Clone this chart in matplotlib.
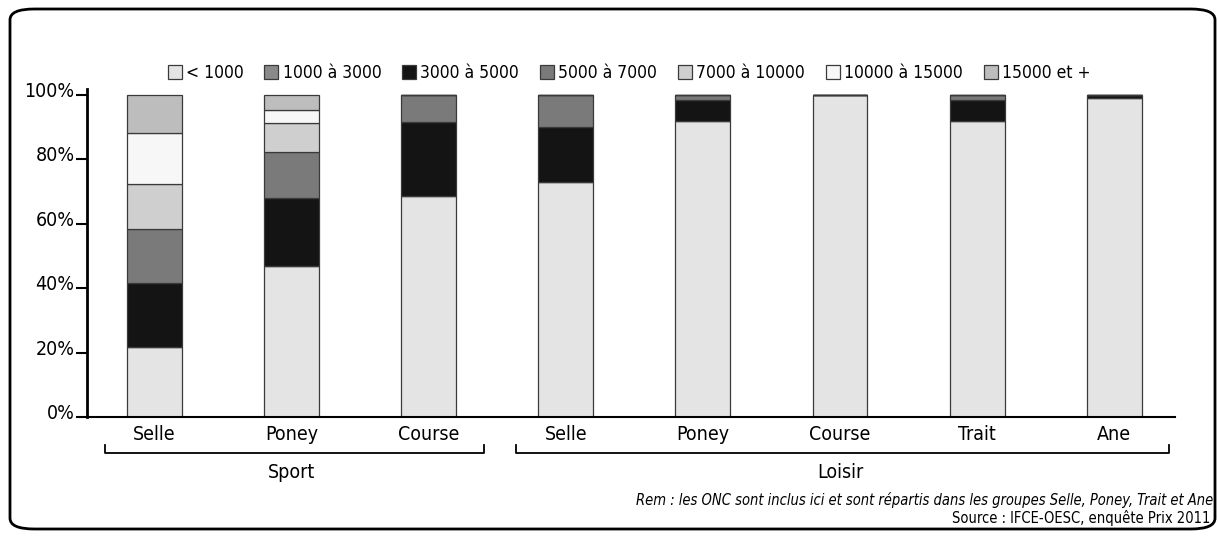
import matplotlib

matplotlib.use("Agg")
import matplotlib.pyplot as plt
import matplotlib.transforms as mtrans
import numpy as np
from matplotlib.patches import FancyBboxPatch

# bar labels (left to right) and the two groups under them
categories = ["Selle", "Poney", "Course", "Selle", "Poney", "Course", "Trait", "Ane"]
groups = ["Sport", "Loisir"]
group_sizes = [3, 5]

price_classes = [
    "< 1000", "1000 à 3000", "3000 à 5000", "5000 à 7000",
    "7000 à 10000", "10000 à 15000", "15000 et +",
]

# share of horses (%) per price class, one list per class, bars in order above
lt_1000 = [21.7, 46.9, 68.6, 73.1, 92.0, 100.0, 92.0, 99.0]
p1000_3000 = [0, 0, 0, 0, 0, 0, 0, 0]
p3000_5000 = [19.9, 21.1, 23.1, 17.1, 6.5, 0, 6.5, 1.0]
p5000_7000 = [16.8, 14.3, 8.3, 9.8, 1.5, 0, 1.5, 0]
p7000_10000 = [14.0, 9.0, 0, 0, 0, 0, 0, 0]
p10000_15000 = [15.8, 4.0, 0, 0, 0, 0, 0, 0]
ge_15000 = [11.8, 4.7, 0, 0, 0, 0, 0, 0]

y_ticks = [0, 20, 40, 60, 80, 100]

rem_text = "Rem : les ONC sont inclus ici et sont répartis dans les groupes Selle, Poney, Trait et Ane"
source_text = "Source : IFCE-OESC, enquête Prix 2011"

series = [lt_1000, p1000_3000, p3000_5000, p5000_7000, p7000_10000, p10000_15000, ge_15000]
colors = ["#e4e4e4", "#8a8a8a", "#141414", "#7a7a7a", "#cfcfcf", "#f7f7f7", "#bdbdbd"]

plt.rcParams["font.family"] = ["DejaVu Sans"]
plt.rcParams["font.stretch"] = "condensed"

fig = plt.figure(figsize=(12.18, 5.39), dpi=100)
W, H = 1218.0, 539.0

# axes placed in pixel terms of the reference
x0, x1 = 87, 1175
y_base, y_top = 417, 88.6
ax = fig.add_axes([x0 / W, 1 - y_base / H, (x1 - x0) / W, (y_base - y_top) / H])

x = np.arange(len(categories))
bottom = np.zeros(len(categories))
handles = []
for name, vals, col in zip(price_classes, series, colors):
    vals = np.asarray(vals, dtype=float)
    h = ax.bar(x, vals, width=0.40, bottom=bottom, color=col,
               edgecolor="#3a3a3a", linewidth=0.9, label=name)
    handles.append(h)
    bottom += vals

ax.set_xlim(-0.492, 7.443)
ax.set_ylim(0, 102)
ax.set_yticks(y_ticks)
ax.set_yticklabels([f"{t}%" for t in y_ticks], fontsize=14)
ax.tick_params(axis="y", direction="out", length=8, width=1.5, pad=1)
# labels sit a little above their tick, as in the print
lift = mtrans.ScaledTranslation(0, 4 / 72, fig.dpi_scale_trans)
for lab in ax.get_yticklabels():
    lab.set_transform(lab.get_transform() + lift)
ax.set_xticks(x)
ax.set_xticklabels(categories, fontsize=14)
ax.tick_params(axis="x", length=0, pad=6)
for s in ("top", "right"):
    ax.spines[s].set_visible(False)
ax.spines["left"].set_linewidth(2)
ax.spines["bottom"].set_linewidth(1.5)

# group brackets under the category labels
trans = ax.get_xaxis_transform()
start = 0
for g, n in zip(groups, group_sizes):
    xa, xb = start - 0.36, start + n - 1 + 0.40
    yb = -0.11
    ax.plot([xa, xa, xb, xb], [yb + 0.025, yb, yb, yb + 0.025], color="black",
            lw=1.3, transform=trans, clip_on=False)
    ax.text((start + start + n - 1) / 2, yb - 0.03, g, transform=trans,
            ha="center", va="top", fontsize=14)
    start += n

fig.legend(handles=handles, labels=price_classes, loc="center",
           bbox_to_anchor=(629 / W, 1 - 73 / H), ncol=7, frameon=False,
           fontsize=12.5, handlelength=0.8, handleheight=0.8,
           handletextpad=0.25, columnspacing=1.2, borderaxespad=0)

fig.text(1213 / W, 1 - 500 / H, rem_text, ha="right", va="center",
         fontsize=10.5, style="italic")
fig.text(1210 / W, 1 - 518 / H, source_text, ha="right", va="center",
         fontsize=10.5)

frame = FancyBboxPatch((10 / W, 10 / H), 1205 / W, 520 / H,
                       boxstyle="round,pad=0,rounding_size=0.02",
                       transform=fig.transFigure, fill=False,
                       edgecolor="black", linewidth=2)
fig.patches.append(frame)

fig.savefig("out.png", dpi=100)
